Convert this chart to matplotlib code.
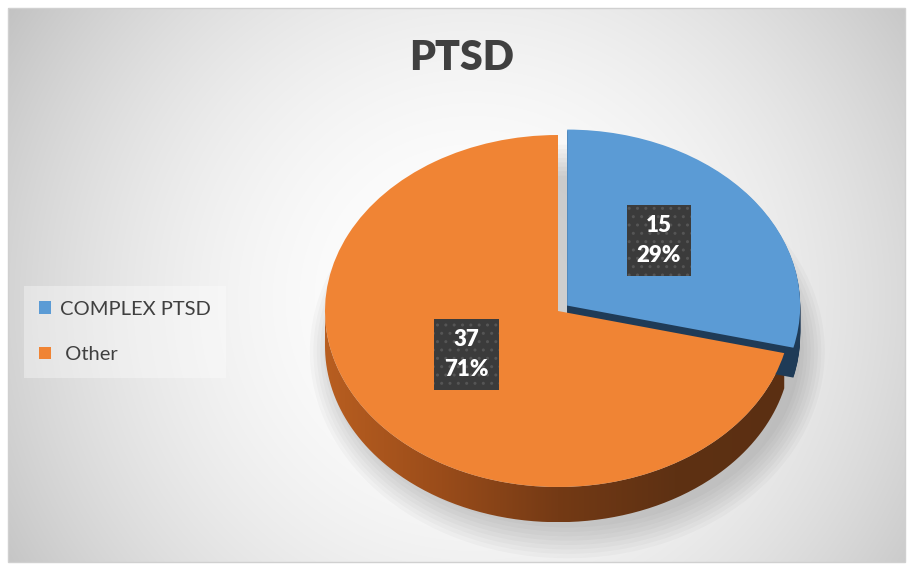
import numpy as np
import matplotlib.pyplot as plt
from matplotlib.path import Path
from matplotlib.patches import PathPatch, Rectangle, Ellipse
from matplotlib.colors import LinearSegmentedColormap

# data
labels = ["COMPLEX PTSD", " Other"]
counts = [15, 37]
colors = ["#5b9bd5", "#f08434"]
side_blue = "#1f3b57"
title = "PTSD"

W, H = 908, 570
plt.rcParams["font.family"] = ["Lato", "DejaVu Sans"]
fig = plt.figure(figsize=(W / 100, H / 100), dpi=100)

# chart area background (radial gradient) and border
bg = fig.add_axes([0, 0, 1, 1], zorder=0)
yy, xx = np.mgrid[0:H, 0:W]
g = 255 - 1.95e-4 * ((xx - 470) ** 2 + (yy - 300) ** 2)
g = np.clip(g, 190, 255) / 255
bg.imshow(np.dstack([g, g, g]), extent=(8, 905, 562, 8), aspect="auto")
bg.add_patch(Rectangle((8, 8), 897, 554, fill=False, ec="#d0d0d0", lw=1))
bg.set_xlim(0, W)
bg.set_ylim(H, 0)
bg.axis("off")

# pie axes: 1 data unit = a px horizontally, b px vertically
cx, cy, a, b = 558, 311, 233, 176
x0, x1, y0, y1 = -1.2, 1.2, -1.45, 1.2
ax = fig.add_axes([(cx + x0 * a) / W, (H - (cy - y0 * b)) / H,
                   (x1 - x0) * a / W, (y1 - y0) * b / H], zorder=1)
ax.patch.set_alpha(0)

depth = 0.2
explode = [0.05, 0]
total = sum(counts)

# soft shadow under the pie
for i in range(8):
    ax.add_patch(Ellipse((0.04, -depth - 0.03), 2.0 + 0.03 * i, 2.0 + 0.05 * i,
                         fc="#000000", alpha=0.025, lw=0, zorder=0))

# orange side wall with horizontal shading
end = np.deg2rad(90 - 360 * counts[0] / total) + 2 * np.pi
th = np.linspace(np.pi, end, 300)
top = np.c_[np.cos(th), np.sin(th)]
bot = top[::-1] - [0, depth]
wall = PathPatch(Path(np.vstack([top, bot, top[:1]])), fc="none", ec="none",
                 transform=ax.transData)
ax.add_patch(wall)
cmap = LinearSegmentedColormap.from_list(
    "side", ["#b85e20", "#9a4c1a", "#743a15", "#5e3113", "#5b2f12"])
grad = np.linspace(0, 1, 256)[None, :]
im = ax.imshow(grad, cmap=cmap, extent=(-1, 1, -1 - depth, 0), aspect="auto",
               zorder=1)
im.set_clip_path(wall)

# blue side wall: stacked wedges
for k in np.linspace(depth * 0.85, 0.005, 30):
    wedges, _ = ax.pie(counts, colors=[side_blue, "none"], startangle=90,
                       counterclock=False, explode=explode, center=(0, -k),
                       wedgeprops=dict(linewidth=0))
    for w in wedges:
        w.set_zorder(2)


def fmt(pct):
    return "{:d}\n{:.0f}%".format(int(round(pct * total / 100)), pct)


wedges, texts, autotexts = ax.pie(
    counts, colors=colors, startangle=90, counterclock=False, explode=explode,
    autopct=fmt, pctdistance=0.5, wedgeprops=dict(linewidth=0),
    textprops=dict(color="white", fontsize=16, fontweight="heavy"))
for w in wedges:
    w.set_zorder(3)
for t in autotexts:
    px, py = t.get_position()
    t.set_position((px, py + 0.06))
    t.set_zorder(5)
    t.set_linespacing(1.5)
    t.set_bbox(dict(boxstyle="square,pad=0.45", fc="#3b3b3b", ec="#555555",
                    lw=0, hatch=".."))

ax.set_aspect("auto")
ax.set_xlim(x0, x1)
ax.set_ylim(y0, y1)
ax.axis("off")

fig.text(462 / W, 1 - 58 / H, title, ha="center", va="center", fontsize=29.5,
         fontweight="heavy", color="#404040")

leg = fig.legend(wedges, labels, loc="center left",
                 bbox_to_anchor=(24 / W, 1 - 332 / H), fontsize=14.5,
                 frameon=True, fancybox=False, handlelength=0.6,
                 handleheight=0.6, handletextpad=0.45, labelspacing=1.4,
                 borderpad=0.75, borderaxespad=0)
leg.get_frame().set_facecolor("white")
leg.get_frame().set_alpha(0.35)
leg.get_frame().set_linewidth(0)
for t in leg.get_texts():
    t.set_color("#404040")

fig.savefig("out.png", dpi=100)
